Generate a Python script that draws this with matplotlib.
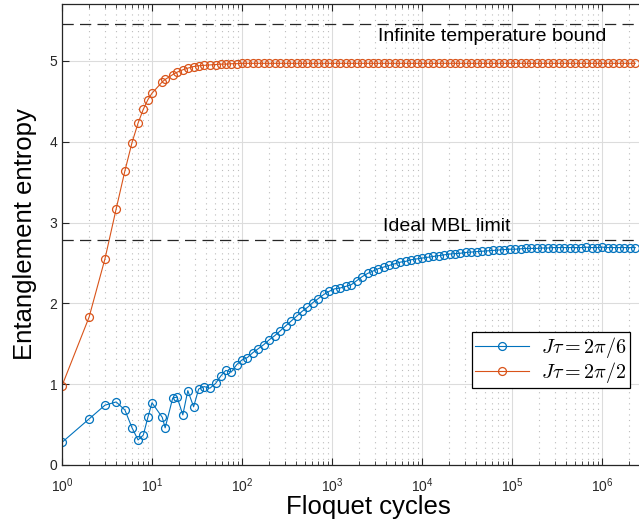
import matplotlib as mpl
mpl.use('Agg')
import matplotlib.pyplot as plt
from matplotlib.ticker import FixedLocator, LogLocator, NullFormatter

# Floquet cycles (sampled times)
cycles = [1, 2, 3, 4, 5, 6, 7, 8, 9, 10, 13, 14, 17, 19, 22, 25, 29, 33, 38, 44,
          51, 58, 66, 76, 87,
          100, 115, 132, 152, 175, 201, 231, 266, 305, 351,
          404, 464, 534, 614, 706, 812, 934, 1074, 1235, 1420,
          1633, 1878, 2160, 2484, 2856, 3285, 3778, 4345, 4996, 5746,
          6608, 7599, 8739, 10050, 11557, 13291, 15284, 17577, 20213, 23245,
          26732, 30741, 35353, 40656, 46754, 53767, 61832, 71107, 81773, 94039,
          108144, 124366, 143021, 164474, 189145, 217517, 250144, 287666, 330816, 380438,
          437503, 503129, 578598, 665388, 765196, 879976, 1011972, 1163767, 1338332, 1539082,
          1769944, 2035436, 2340752]

# J*tau = 2pi/6
entropy_a = [0.28, 0.57, 0.74, 0.78, 0.68, 0.46, 0.31, 0.37, 0.59, 0.77, 0.59, 0.46, 0.83, 0.84, 0.62, 0.92, 0.72, 0.94, 0.97, 0.95,
             1.01, 1.10, 1.17, 1.15, 1.24,
             1.30, 1.33, 1.39, 1.44, 1.49, 1.55, 1.60, 1.66, 1.72, 1.78,
             1.84, 1.90, 1.95, 2.01, 2.06, 2.11, 2.15, 2.18, 2.19, 2.21,
             2.23, 2.28, 2.33, 2.37, 2.40, 2.43, 2.45, 2.47, 2.49, 2.51,
             2.52, 2.54, 2.55, 2.56, 2.57, 2.58, 2.59, 2.60, 2.61, 2.615,
             2.62, 2.63, 2.635, 2.64, 2.645, 2.65, 2.655, 2.66, 2.665, 2.67,
             2.67, 2.675, 2.68, 2.68, 2.68, 2.685, 2.685, 2.69, 2.69, 2.69,
             2.69, 2.69, 2.69, 2.695, 2.69, 2.69, 2.695, 2.69, 2.69, 2.69,
             2.69, 2.69, 2.69]

# J*tau = 2pi/2
entropy_b = [0.98, 1.83, 2.55, 3.17, 3.64, 3.99, 4.23, 4.40, 4.52, 4.60, 4.74, 4.77, 4.83, 4.86, 4.89, 4.91, 4.93, 4.94, 4.945, 4.95,
             4.955, 4.96, 4.96, 4.965, 4.965,
             4.97, 4.97, 4.97, 4.97, 4.97, 4.97, 4.97, 4.97, 4.97, 4.97,
             4.97, 4.97, 4.97, 4.97, 4.97, 4.97, 4.97, 4.97, 4.97, 4.97,
             4.97, 4.97, 4.97, 4.97, 4.97, 4.97, 4.97, 4.97, 4.97, 4.97,
             4.97, 4.97, 4.97, 4.97, 4.97, 4.97, 4.97, 4.97, 4.97, 4.97,
             4.97, 4.97, 4.97, 4.97, 4.97, 4.97, 4.97, 4.97, 4.97, 4.97,
             4.97, 4.97, 4.97, 4.97, 4.97, 4.97, 4.97, 4.97, 4.97, 4.97,
             4.97, 4.97, 4.97, 4.97, 4.97, 4.97, 4.97, 4.97, 4.97, 4.97,
             4.97, 4.97, 4.97]

labels = [r'$J\tau = 2\pi/6$', r'$J\tau = 2\pi/2$']
x_ticks = [1e0, 1e1, 1e2, 1e3, 1e4, 1e5, 1e6]
infinite_bound = 5.46
mbl_limit = 2.78

plt.rcParams['font.family'] = ['Liberation Sans', 'DejaVu Sans']
plt.rcParams['mathtext.fontset'] = 'cm'

axis_col = '#262626'
fig = plt.figure(figsize=(6.39, 5.21), dpi=100)
# the axes runs past the right edge of the figure, as in the original crop
ax = fig.add_axes([62 / 639, 56 / 521, 612 / 639, 461.5 / 521])

ax.plot(cycles, entropy_a, '-o', color='#0072BD', lw=0.8, ms=5.7,
        mfc='none', mew=0.9, label=labels[0])
ax.plot(cycles, entropy_b, '-o', color='#D95319', lw=0.8, ms=5.7,
        mfc='none', mew=0.9, label=labels[1])

ax.axhline(infinite_bound, color=axis_col, lw=0.9, dashes=(9, 5))
ax.axhline(mbl_limit, color=axis_col, lw=0.9, dashes=(9, 5))
ax.text(3.24e3, 5.30, 'Infinite temperature bound', fontsize=14,
        va='center', ha='left', color='black')
ax.text(3.7e3, 2.95, 'Ideal MBL limit', fontsize=14,
        va='center', ha='left', color='black')

ax.set_xscale('log')
ax.set_xlim(1, 10 ** 6.8)
ax.set_ylim(0, 5.71)
ax.set_yticks([0, 1, 2, 3, 4, 5])
ax.xaxis.set_major_locator(FixedLocator(x_ticks))
ax.xaxis.set_minor_locator(LogLocator(base=10, subs=range(2, 10), numticks=100))
ax.xaxis.set_minor_formatter(NullFormatter())

ax.grid(True, which='major', color='#dcdcdc', lw=0.8, ls='-')
ax.grid(True, which='minor', axis='x', color='#bcbcbc', lw=0.8, ls=(0, (1, 4)))
ax.set_axisbelow(True)

ax.tick_params(which='both', direction='in', top=True, right=False,
               colors=axis_col, labelsize=10)
ax.tick_params(which='major', length=5, width=0.8)
ax.tick_params(which='minor', length=3, width=0.6)
ax.tick_params(axis='x', pad=8)
for side in ['left', 'bottom', 'top']:
    ax.spines[side].set_color(axis_col)
    ax.spines[side].set_linewidth(0.9)
ax.spines['right'].set_visible(False)

ax.set_xlabel('Floquet cycles', fontsize=18.5, labelpad=0)
ax.set_ylabel('Entanglement entropy', fontsize=18.5, labelpad=9)

leg = ax.legend(loc='lower right', bbox_to_anchor=(0.928, 0.167),
                borderaxespad=0, fontsize=14.5, fancybox=False, framealpha=1,
                edgecolor='black', handlelength=2.7, handletextpad=0.6,
                borderpad=0.15, labelspacing=0.0)
leg.get_frame().set_linewidth(0.9)

fig.savefig('out.png', dpi=100)
